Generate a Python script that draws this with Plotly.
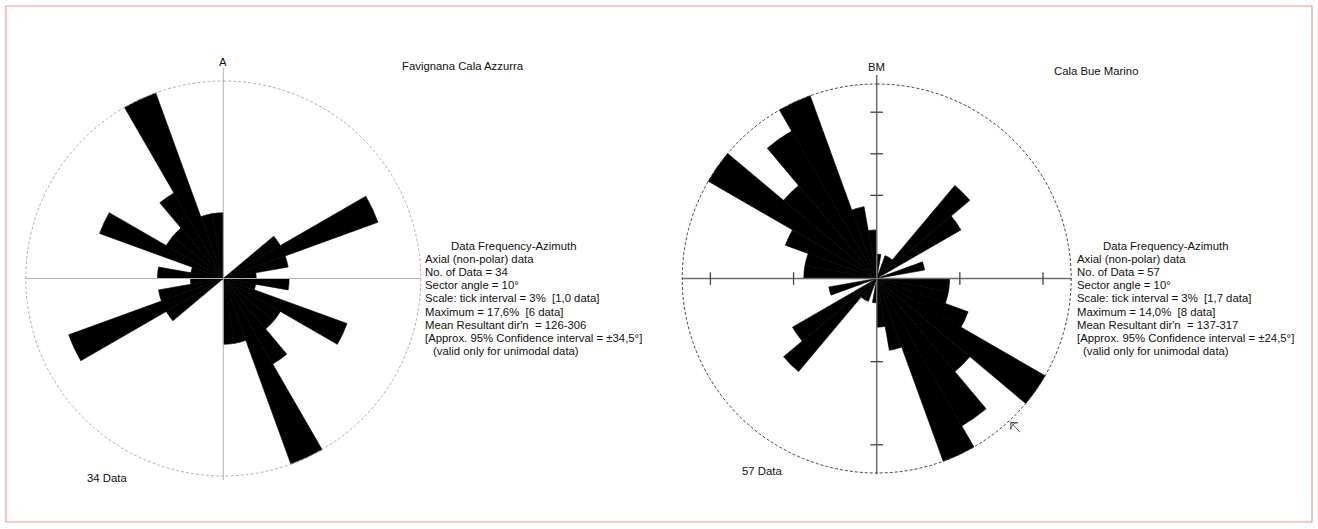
import numpy as np
import plotly.graph_objects as go

# ---------------- data ----------------
sector_starts = list(range(0, 180, 10))          # axial data: 0-10 ... 170-180 (mirrored to 180-360)
sector_angle = 10
left_counts = [0, 0, 0, 0, 0, 2, 5, 2, 1, 2, 1, 4, 2, 2, 3, 6, 2, 2]     # Favignana Cala Azzurra, N=34
right_counts = [1, 0, 1, 1, 5, 4, 0, 2, 0, 3, 3, 4, 8, 5, 7, 8, 3, 2]    # Cala Bue Marino, N=57
left_n = 34
right_n = 57
left_max = 6
right_max = 8
right_tick_pcts_all = [6, 12]      # visible scale ticks (3% interval) on all four axes
right_tick_pcts_north = [9]
right_mean_dir = 137

left_title = "Favignana Cala Azzurra"
right_title = "Cala Bue Marino"
left_label = "A"
right_label = "BM"
left_info = [
    "Data Frequency-Azimuth",
    "Axial (non-polar) data",
    "No. of Data = 34",
    "Sector angle = 10°",
    "Scale: tick interval = 3%  [1,0 data]",
    "Maximum = 17,6%  [6 data]",
    "Mean Resultant dir'n  = 126-306",
    "[Approx. 95% Confidence interval = ±34,5°]",
    "(valid only for unimodal data)",
]
right_info = [
    "Data Frequency-Azimuth",
    "Axial (non-polar) data",
    "No. of Data = 57",
    "Sector angle = 10°",
    "Scale: tick interval = 3%  [1,7 data]",
    "Maximum = 14,0%  [8 data]",
    "Mean Resultant dir'n  = 137-317",
    "[Approx. 95% Confidence interval = ±24,5°]",
    "(valid only for unimodal data)",
]

# ---------------- layout constants ----------------
W, H = 1318, 529
K = 1.1
FONT = "Liberation Sans, Arial, sans-serif"
FS = 11.35

def domain(cx, cy, R):
    rr = R * K
    return dict(x=[(cx - rr) / W, (cx + rr) / W], y=[1 - (cy + rr) / H, 1 - (cy - rr) / H])

fig = go.Figure()

def add_rose(sub, counts, vmax, linecol, linew, circcol, vtop, vbot):
    thetas = [s + sector_angle / 2 for s in sector_starts] + [s + 180 + sector_angle / 2 for s in sector_starts]
    rs = list(counts) + list(counts)
    # cross lines
    fig.add_trace(go.Scatterpolar(r=[vmax * vtop, 0, vmax * vbot], theta=[0, 0, 180], mode="lines",
                                  line=dict(color=linecol, width=linew), subplot=sub,
                                  showlegend=False, hoverinfo="skip"))
    fig.add_trace(go.Scatterpolar(r=[vmax, 0, vmax], theta=[270, 0, 90], mode="lines",
                                  line=dict(color=linecol, width=linew), subplot=sub,
                                  showlegend=False, hoverinfo="skip"))
    # bars
    fig.add_trace(go.Barpolar(r=rs, theta=thetas, width=[sector_angle] * len(rs),
                              marker=dict(color="black", line=dict(color="black", width=0.6)),
                              subplot=sub, showlegend=False, hoverinfo="skip"))
    # outer dashed circle
    ct = np.linspace(0, 360, 361)
    fig.add_trace(go.Scatterpolar(r=[vmax] * len(ct), theta=ct, mode="lines",
                                  line=dict(color=circcol, width=0.9, dash="3px,2px"),
                                  subplot=sub, showlegend=False, hoverinfo="skip"))

add_rose("polar", left_counts, left_max, "#b4b4b4", 1, "#a8a8a8", 1.066, 1.02)
add_rose("polar2", right_counts, right_max, "#6e6e6e", 1.5, "#333333", 1.046, 1.005)

# scale ticks on right diagram
tick_r, tick_t, tick_s = [], [], []
for p in right_tick_pcts_all:
    for t in [0, 90, 180, 270]:
        tick_r.append(p / 100 * right_n)
        tick_t.append(t)
        tick_s.append("line-ew" if t in (0, 180) else "line-ns")
for p in right_tick_pcts_north:
    tick_r.append(p / 100 * right_n)
    tick_t.append(0)
    tick_s.append("line-ew")
fig.add_trace(go.Scatterpolar(r=tick_r, theta=tick_t, mode="markers",
                              marker=dict(symbol=tick_s, size=9, color="#444", line=dict(color="#444", width=1.3)),
                              subplot="polar2", showlegend=False, hoverinfo="skip"))

# mean direction arrow on right diagram
fig.add_trace(go.Scatterpolar(r=[right_max * 1.08, right_max * 1.005], theta=[right_mean_dir, right_mean_dir],
                              mode="lines", line=dict(color="#555", width=1),
                              subplot="polar2", showlegend=False, hoverinfo="skip"))
fig.add_trace(go.Scatterpolar(r=[right_max * 1.012], theta=[right_mean_dir], mode="markers",
                              marker=dict(symbol="arrow-wide-open", size=7, angle=right_mean_dir + 180,
                                          color="#555", line=dict(color="#555", width=1)),
                              subplot="polar2", showlegend=False, hoverinfo="skip"))

polar_common = dict(bgcolor="rgba(0,0,0,0)")
fig.update_layout(
    width=W, height=H, autosize=False,
    margin=dict(l=0, r=0, t=0, b=0),
    paper_bgcolor="white", plot_bgcolor="white",
    polar=dict(domain=domain(223.3, 278.5, 197.5), **polar_common,
               radialaxis=dict(range=[0, left_max * K], visible=False),
               angularaxis=dict(rotation=90, direction="clockwise", visible=False)),
    polar2=dict(domain=domain(876.7, 278.5, 194.5), **polar_common,
                radialaxis=dict(range=[0, right_max * K], visible=False),
                angularaxis=dict(rotation=90, direction="clockwise", visible=False)),
    shapes=[dict(type="rect", xref="paper", yref="paper", x0=6 / W, x1=1 - 6 / W, y0=7 / H, y1=1 - 6 / H,
                 line=dict(color="#f0998c", width=1.2))],
)

ann = []
def txt(x, y, s, anchor="left"):
    ann.append(dict(x=x / W, y=1 - y / H, xref="paper", yref="paper", text=s, showarrow=False,
                    xanchor=anchor, yanchor="middle", font=dict(family=FONT, size=FS, color="#111")))

txt(223.3, 61.7, left_label, "center")
txt(876.7, 66.7, right_label, "center")
txt(400, 65.7, left_title)
txt(1051.7, 70.5, right_title)
txt(85, 478, f"{left_n} Data")
txt(740, 470.7, f"{right_n} Data")

line_y0, line_dy = 246, 13.1
for i, s in enumerate(left_info):
    x = 449.3 if i == 0 else (430.7 if i == len(left_info) - 1 else 423.3)
    txt(x, line_y0 + i * line_dy, s)
for i, s in enumerate(right_info):
    x = 1100.7 if i == 0 else (1080.7 if i == len(right_info) - 1 else 1075)
    txt(x, line_y0 + i * line_dy, s)

fig.update_layout(annotations=ann)
fig.write_html("out.html", config={"displayModeBar": False},
               post_script="document.body.style.margin='0';document.body.style.overflow='hidden';")
